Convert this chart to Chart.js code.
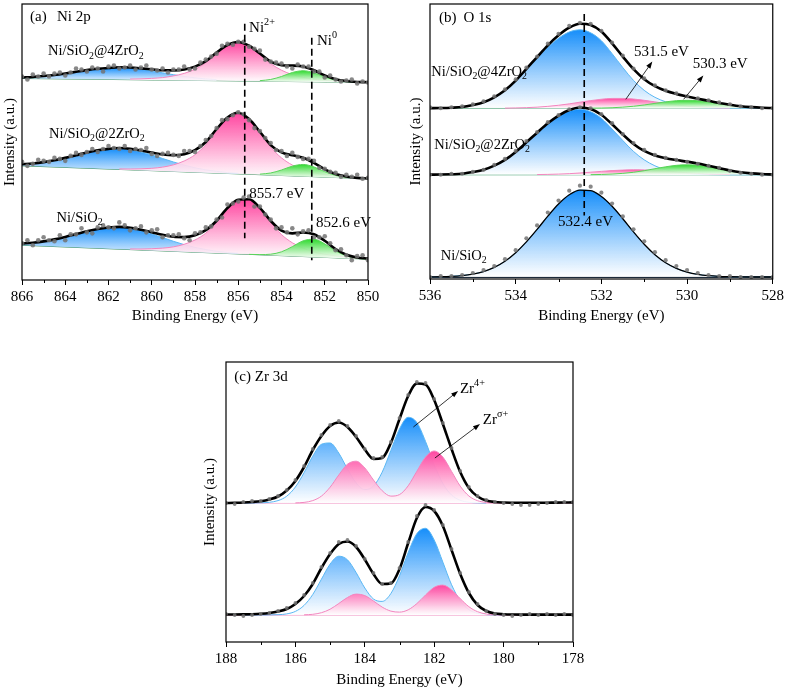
<!DOCTYPE html>
<html lang="en">
<head>
<meta charset="UTF-8">
<title>XPS spectra</title>
<style>
  html, body { margin: 0; padding: 0; background: #fff; overflow: hidden; }
  canvas { position: absolute; }
  #chartA { left: 0; top: 0; }
  #chartB { left: 390px; top: 0; }
  #chartC { left: 200px; top: 340px; }
</style>
</head>
<body>
<canvas id="chartA" width="390" height="330"></canvas>
<canvas id="chartB" width="397" height="330"></canvas>
<canvas id="chartC" width="400" height="349"></canvas>

<script src="https://cdn.jsdelivr.net/npm/chart.js"></script>
<script>
// ---------- (a) Ni 2p ----------
const niE = [866, 865.5, 865, 864.5, 864, 863.5, 863, 862.5, 862, 861.5, 861, 860.5, 860, 859.5, 859, 858.5, 858, 857.5, 857, 856.5, 856, 855.5, 855, 854.5, 854, 853.5, 853, 852.5, 852, 851.5, 851, 850.5, 850];
const niEData = [866, 865.75, 865.5, 865.25, 865, 864.75, 864.5, 864.25, 864, 863.75, 863.5, 863.25, 863, 862.75, 862.5, 862.25, 862, 861.75, 861.5, 861.25, 861, 860.75, 860.5, 860.25, 860, 859.75, 859.5, 859.25, 859, 858.75, 858.5, 858.25, 858, 857.75, 857.5, 857.25, 857, 856.75, 856.5, 856.25, 856, 855.75, 855.5, 855.25, 855, 854.75, 854.5, 854.25, 854, 853.75, 853.5, 853.25, 853, 852.75, 852.5, 852.25, 852, 851.75, 851.5, 851.25, 851, 850.75, 850.5, 850.25, 850];
const niBaseE = [866, 850];

// Ni/SiO2@4ZrO2
const niBase4 = [203, 199];
const niBlue4 = [204.0, 204.5, 205.4, 206.5, 208.0, 209.7, 211.4, 212.7, 213.6, 213.9, 213.4, 212.2, 210.6, 208.7, 206.8, 205.0, 203.6, 202.5, 201.8];
const niPink4 = [202.4, 202.6, 203.1, 203.9, 205.6, 208.1, 212.3, 218.8, 228.1, 236.1, 239.5, 235.9, 227.6, 218.0, 211.3, 206.9, 204.1, 202.1, 201.1, 200.4, 199.9];
const niGreen4 = [200.8, 202.0, 205.0, 209.0, 210.8, 208.7, 204.5, 201.3, 199.8];
const niFit4 = [204.0, 204.5, 205.4, 206.5, 208.0, 209.7, 211.4, 212.7, 213.6, 214.3, 214.0, 213.2, 212.2, 211.2, 211.1, 212.0, 214.9, 220.4, 229.1, 236.7, 239.8, 236.0, 228.1, 219.9, 216.3, 216.0, 215.1, 211.2, 206.1, 202.3, 200.4, 199.5, 199.2];
const niData4 = [205, 202, 207, 205, 208, 205, 208, 209, 206, 209, 213, 212, 210, 214, 213, 210, 215, 216, 213, 214, 216, 212, 214, 216, 212, 211, 213, 209, 212, 212, 215, 212, 213, 219, 222, 225, 228, 236, 238, 237, 240, 240, 235, 233, 231, 222, 220, 219, 218, 215, 213, 217, 215, 215, 210, 210, 204, 206, 202, 200, 201, 202, 198, 200, 199];

// Ni/SiO2@2ZrO2
const niBase2 = [115, 102];
const niBlue2 = [116.7, 117.4, 118.7, 120.6, 123.0, 125.7, 128.5, 130.7, 132.1, 132.4, 131.2, 129.0, 126.0, 122.4, 118.9, 115.7, 113.0, 110.9, 109.4, 108.2, 107.4];
const niPink2 = [111.9, 111.8, 112.0, 112.5, 113.7, 116.0, 119.9, 126.2, 136.2, 150.4, 162.8, 167.9, 162.0, 148.8, 133.8, 123.0, 115.8, 111.1, 108.0, 106.0, 104.7, 103.7, 102.9, 102.3];
const niGreen2 = [106.6, 107.8, 110.8, 114.7, 116.4, 113.9, 109.1, 105.3, 103.3];
const niFit2 = [116.7, 117.4, 118.7, 120.6, 123.0, 125.7, 128.5, 130.7, 132.1, 132.9, 132.1, 130.5, 128.4, 126.4, 125.6, 126.7, 130.7, 139.0, 152.1, 163.7, 168.4, 162.1, 149.3, 135.9, 128.5, 125.7, 123.1, 117.9, 111.5, 106.8, 104.2, 102.9, 102.3];
const niData2 = [119, 115, 117, 121, 120, 119, 123, 122, 120, 125, 128, 126, 129, 132, 129, 132, 135, 133, 132, 135, 130, 132, 131, 133, 127, 125, 127, 128, 126, 125, 130, 130, 129, 135, 141, 145, 153, 161, 162, 166, 169, 167, 161, 153, 150, 143, 138, 131, 130, 125, 128, 124, 122, 122, 120, 113, 112, 109, 108, 104, 106, 104, 106, 102, 103];

// Ni/SiO2
const niBase0 = [35, 21];
const niBlue0 = [36.8, 37.6, 38.9, 40.9, 43.4, 46.2, 49.0, 51.3, 52.8, 53.1, 51.9, 49.6, 46.4, 42.7, 39.0, 35.6, 32.8, 30.6, 28.9, 27.7, 26.8];
const niPink0 = [31.3, 31.2, 31.5, 32.1, 33.4, 36.0, 40.3, 47.2, 57.9, 71.5, 80.3, 81.0, 72.4, 58.5, 45.8, 37.5, 32.0, 28.2, 25.9, 24.2, 23.0, 22.1, 21.4];
const niGreen0 = [25.8, 25.6, 26.0, 28.4, 33.6, 39.5, 41.1, 36.4, 29.3, 24.3, 22.0, 21.1];
const niFit0 = [36.8, 37.6, 38.9, 40.9, 43.4, 46.2, 49.0, 51.3, 52.8, 53.5, 52.6, 50.6, 48.1, 45.5, 43.5, 43.2, 45.1, 50.2, 59.7, 72.5, 80.8, 81.3, 72.6, 59.6, 49.7, 47.0, 47.9, 46.1, 39.5, 31.2, 25.4, 22.7, 21.5];
const niData0 = [37, 40, 35, 40, 43, 40, 39, 45, 40, 46, 46, 52, 48, 47, 53, 55, 53, 52, 58, 55, 50, 52, 54, 48, 50, 51, 43, 45, 45, 46, 42, 40, 47, 48, 53, 54, 61, 63, 76, 77, 79, 83, 84, 74, 74, 66, 61, 52, 53, 48, 52, 46, 49, 50, 43, 43, 44, 37, 30, 31, 25, 20, 24, 25, 20];

// ---------- (b) O 1s ----------
const oE = [536, 535.75, 535.5, 535.25, 535, 534.75, 534.5, 534.25, 534, 533.75, 533.5, 533.25, 533, 532.75, 532.5, 532.25, 532, 531.75, 531.5, 531.25, 531, 530.75, 530.5, 530.25, 530, 529.75, 529.5, 529.25, 529, 528.75, 528.5, 528.25, 528];
const oBaseE = [536, 528];

const oBase4 = [172, 172];
const oBlue4 = [172.1, 172.2, 172.5, 173.2, 175.2, 178.0, 183.0, 190.0, 199.5, 211.0, 222.5, 233.5, 242.5, 248.8, 251.0, 248.0, 240.0, 227.0, 213.0, 200.0, 190.0, 183.0, 178.5, 175.5, 173.8, 172.8, 172.4, 172.1, 172.0, 172.0, 172.0, 172.0, 172.0];
const oPink4 = [172.1, 172.3, 172.6, 173.1, 173.9, 175.0, 176.4, 178.1, 179.7, 181.1, 181.9, 181.9, 181.3, 180.0, 178.4, 176.7, 175.3, 174.1, 173.2, 172.7, 172.3, 172.2];
const oGreen4 = [172.1, 172.2, 172.5, 173.1, 174.0, 175.3, 176.9, 178.4, 179.6, 180.0, 179.6, 178.4, 176.9, 175.3, 174.0, 173.1, 172.5, 172.2];
const oFit4 = [172.1, 172.2, 172.5, 173.2, 175.2, 178.0, 183.0, 190.1, 199.8, 211.6, 223.6, 235.4, 245.5, 253.2, 257.1, 255.8, 249.3, 237.4, 224.0, 211.3, 201.3, 194.3, 189.6, 186.4, 183.9, 181.6, 179.5, 177.3, 175.5, 174.0, 173.1, 172.5, 172.2];
const oData4 = [173, 172, 173, 174, 176, 179, 184, 191, 201, 213, 224, 237, 247, 255, 258, 257, 250, 238, 225, 212, 202, 195, 190, 187, 184, 182, 180, 178, 176, 174, 173, 172, 172];

const oBase2 = [105, 105];
const oBlue2 = [105.1, 105.2, 105.5, 106.0, 107.7, 110.0, 114.2, 120.0, 128.0, 137.6, 147.2, 156.4, 163.9, 169.1, 171.0, 168.5, 161.8, 151.0, 139.5, 128.5, 120.0, 114.0, 110.0, 107.5, 106.2, 105.5, 105.2, 105.1, 105.0, 105.0, 105.0, 105.0, 105.0];
const oPink2 = [105.2, 105.4, 105.7, 106.1, 106.8, 107.6, 108.4, 109.2, 109.7, 110.0, 109.9, 109.4, 108.7, 107.8, 107.0, 106.3, 105.8, 105.5, 105.2];
const oGreen2 = [105.1, 105.3, 105.7, 106.4, 107.5, 109.1, 111.1, 113.0, 114.5, 115.0, 114.5, 113.0, 111.1, 109.1, 107.5, 106.4, 105.7, 105.3];
const oFit2 = [105.1, 105.2, 105.5, 106.0, 107.7, 110.0, 114.2, 120.0, 128.0, 137.6, 147.4, 156.8, 164.6, 170.2, 172.8, 171.2, 165.5, 155.9, 145.6, 136.0, 129.0, 124.5, 121.7, 119.8, 118.2, 116.3, 114.0, 111.7, 109.3, 107.5, 106.4, 105.7, 105.3];
const oData2 = [105, 105, 106, 106, 108, 110, 115, 121, 129, 139, 148, 158, 165, 171, 173, 172, 166, 157, 146, 137, 130, 125, 122, 120, 118, 116, 114, 112, 109, 107, 106, 105, 105];

const oBase0 = [2, 2];
const oBlue0 = [2.1, 2.3, 2.7, 3.5, 5.0, 7.5, 11.7, 17.9, 26.5, 37.4, 50.0, 63.3, 75.5, 84.8, 89.6, 89.0, 83.2, 73.3, 60.7, 47.4, 35.0, 24.5, 16.4, 10.7, 6.9, 4.6, 3.3, 2.6, 2.3, 2.1, 2.0, 2.0, 2.0];
const oFit0 = [2.1, 2.3, 2.7, 3.5, 5.0, 7.5, 11.7, 17.9, 26.5, 37.4, 50.0, 63.3, 75.5, 84.8, 89.6, 89.0, 83.2, 73.3, 60.7, 47.4, 35.0, 24.5, 16.4, 10.7, 6.9, 4.6, 3.3, 2.6, 2.3, 2.1, 2.0, 2.0, 2.0];
const oData0 = [2, 3, 3, 4, 6, 9, 13, 20, 29, 41, 54, 67, 79, 89, 94, 93, 87, 76, 63, 50, 38, 27, 19, 13, 9, 6, 4, 3, 3, 2, 2, 2, 2];

// ---------- (c) Zr 3d ----------
const zrE = [188, 187.75, 187.5, 187.25, 187, 186.75, 186.5, 186.25, 186, 185.75, 185.5, 185.25, 185, 184.75, 184.5, 184.25, 184, 183.75, 183.5, 183.25, 183, 182.75, 182.5, 182.25, 182, 181.75, 181.5, 181.25, 181, 180.75, 180.5, 180.25, 180, 179.75, 179.5, 179.25, 179, 178.75, 178.5, 178.25, 178];
const zrBaseE = [188, 178];

const zrBaseTop = [139, 139];
const zrBlueTop = [139, 139, 139.2, 139.7, 141.4, 145.8, 155.0, 169.3, 185.8, 197.7, 199.0, 188.9, 173.0, 159.1, 152.4, 155.9, 169.8, 191.4, 213.1, 224.7, 219.5, 200.6, 177.3, 158.4, 147.0, 141.7, 139.7, 139.2, 139.0];
const zrPinkTop = [139.1, 139.6, 141.4, 145.9, 154.8, 167.0, 177.8, 180.8, 174.1, 162.0, 151.3, 145.9, 147.4, 156.2, 170.7, 184.9, 191.0, 184.9, 170.6, 155.9, 146.0, 141.3, 139.6, 139.1, 139.0];
const zrFitTop = [139, 139.2, 139.5, 140, 140.8, 142.5, 145.5, 151.5, 161, 175, 192, 206, 216, 219.5, 215, 205, 192.5, 183, 184, 199, 223, 246, 258.5, 257.5, 242, 218, 193, 170, 154, 145.5, 141.5, 140, 139.5, 139.3, 139.2, 139.2, 139.2, 139.3, 139.4, 139.5, 139.6];
const zrDataTop = [139, 138, 140, 141, 141, 143, 146, 152, 162, 176, 193, 207, 217, 221, 216, 206, 193, 184, 185, 200, 224, 247, 260, 259, 243, 219, 194, 171, 155, 146, 142, 140, 139, 138, 137, 137, 138, 139, 140, 140, 140];

const zrBaseBot = [27, 27];
const zrBlueBot = [27, 27, 27, 27.1, 27.3, 28.1, 30.6, 36.6, 47.5, 62.8, 77.9, 85.8, 82.2, 69.4, 54.0, 43.0, 40.6, 48.4, 66.2, 89.4, 108.4, 113.7, 102.0, 79.8, 57.3, 41.1, 32.3, 28.7, 27.4, 27.1, 27];
const zrPinkBot = [27.2, 27.7, 29.3, 32.8, 38.5, 44.5, 47.9, 46.4, 41.0, 34.9, 30.9, 29.9, 32.2, 38.4, 47.0, 54.7, 56.9, 52.1, 43.4, 35.3, 30.3, 28.0, 27.2, 27];
const zrFitBot = [27.5, 27.5, 27.6, 27.8, 28.2, 29, 30.5, 33, 38, 46, 58, 74, 88, 98, 100.5, 95, 82.5, 68, 58, 58.5, 73, 99, 124, 135, 131, 116, 92, 68, 49, 37, 31, 28.5, 27.8, 27.5, 27.4, 27.4, 27.4, 27.4, 27.4, 27.4, 27.4];
const zrDataBot = [28, 27, 26, 27, 28, 29, 31, 34, 39, 47, 59, 75, 89, 100, 102, 96, 83, 69, 58, 59, 74, 100, 126, 137, 132, 117, 93, 69, 50, 38, 31, 28, 27, 26, 27, 28, 27, 28, 27, 28, 27];

// ---------- drawing helpers ----------
Chart.defaults.font.family = '"Liberation Serif", "Times New Roman", serif';
Chart.defaults.color = '#000';

const BLUE = ['rgb(22,142,250)', '#5ab7f3'];
const PINK = ['rgb(255,70,160)', '#f286bf'];
const GREEN = ['rgb(45,218,45)', '#5ad35a'];
const SERIF = '"Liberation Serif", "Times New Roman", serif';

const pts = (grid, start, vals) => vals.map((v, i) => ({ x: grid[start + i], y: v }));

function gradientFill(color, topVal, baseVal) {
  return ctx => {
    const chart = ctx.chart;
    if (!chart.chartArea) return color;
    const y = chart.scales.y;
    const g = chart.ctx.createLinearGradient(0, y.getPixelForValue(topVal), 0, y.getPixelForValue(baseVal));
    g.addColorStop(0, color);
    g.addColorStop(1, 'rgba(255,255,255,0.9)');
    return g;
  };
}

function addSpectrum(sets, s) {
  const baseIdx = sets.length;
  const baseLow = Math.min(...s.baseY);
  sets.push({ data: pts(s.baseX, 0, s.baseY), borderColor: s.baseColor, borderWidth: s.baseWidth || 1,
              pointRadius: 0, fill: false, order: 5 });
  s.peaks.forEach((p, k) => {
    sets.push({
      data: pts(s.grid, p.start, p.vals), borderColor: p.color[1], borderWidth: 1,
      backgroundColor: gradientFill(p.color[0], Math.max(...p.vals), baseLow),
      fill: baseIdx, pointRadius: 0, cubicInterpolationMode: 'monotone', order: 4 - k
    });
  });
  sets.push({ data: pts(s.grid, 0, s.fit), borderColor: '#000', borderWidth: s.fitWidth || 2.6,
              pointRadius: 0, fill: false, cubicInterpolationMode: 'monotone', order: 1 });
  sets.push({ data: pts(s.dataGrid || s.grid, 0, s.data), showLine: false, pointRadius: s.dotR,
              pointBackgroundColor: 'rgba(115,115,115,0.85)', pointBorderWidth: 0, order: 0 });
}

function drawRich(ctx, str, x, y, size, align) {
  const parts = [];
  const re = /([_^])\{([^}]*)\}|([^_^]+)/g;
  let m;
  while ((m = re.exec(str))) {
    if (m[3]) parts.push({ t: m[3], k: 0 });
    else parts.push({ t: m[2], k: m[1] === '_' ? 1 : 2 });
  }
  let w = 0;
  parts.forEach(p => {
    ctx.font = (p.k ? size * 0.68 : size) + 'px ' + SERIF;
    p.w = ctx.measureText(p.t).width;
    w += p.w;
  });
  let cx = align === 'center' ? x - w / 2 : x;
  ctx.textAlign = 'left';
  ctx.textBaseline = 'middle';
  ctx.fillStyle = '#000';
  parts.forEach(p => {
    ctx.font = (p.k ? size * 0.68 : size) + 'px ' + SERIF;
    const dy = p.k === 1 ? size * 0.3 : p.k === 2 ? -size * 0.38 : 0;
    ctx.fillText(p.t, cx, y + dy);
    cx += p.w;
  });
}

function annotations(items) {
  return {
    id: 'annot',
    afterDraw(chart) {
      const { ctx, scales: { x, y } } = chart;
      ctx.save();
      items.forEach(it => {
        if (it.type === 'dash') {
          const px = x.getPixelForValue(it.x);
          ctx.beginPath();
          ctx.setLineDash([7, 4]);
          ctx.lineWidth = 1.6;
          ctx.strokeStyle = '#000';
          ctx.moveTo(px, y.getPixelForValue(it.y0));
          ctx.lineTo(px, y.getPixelForValue(it.y1));
          ctx.stroke();
          ctx.setLineDash([]);
        } else if (it.type === 'arrow') {
          const x0 = x.getPixelForValue(it.x0), y0 = y.getPixelForValue(it.y0);
          const x1 = x.getPixelForValue(it.x1), y1 = y.getPixelForValue(it.y1);
          const a = Math.atan2(y1 - y0, x1 - x0);
          ctx.beginPath();
          ctx.lineWidth = 0.8;
          ctx.strokeStyle = '#000';
          ctx.moveTo(x0, y0);
          ctx.lineTo(x1 - 5 * Math.cos(a), y1 - 5 * Math.sin(a));
          ctx.stroke();
          ctx.beginPath();
          ctx.fillStyle = '#000';
          ctx.moveTo(x1, y1);
          ctx.lineTo(x1 - 7 * Math.cos(a) + 2.5 * Math.sin(a), y1 - 7 * Math.sin(a) - 2.5 * Math.cos(a));
          ctx.lineTo(x1 - 7 * Math.cos(a) - 2.5 * Math.sin(a), y1 - 7 * Math.sin(a) + 2.5 * Math.cos(a));
          ctx.closePath();
          ctx.fill();
        } else {
          drawRich(ctx, it.text, x.getPixelForValue(it.x), y.getPixelForValue(it.y), it.size || 15, it.align);
        }
      });
      ctx.restore();
    }
  };
}

const framePlugin = {
  id: 'frame',
  afterDraw(chart) {
    const { ctx, chartArea: a, scales: { x } } = chart;
    ctx.save();
    ctx.strokeStyle = '#000';
    ctx.lineWidth = 1.2;
    ctx.strokeRect(a.left, a.top, a.right - a.left, a.bottom - a.top);
    ctx.lineWidth = 1;
    for (let v = Math.ceil(x.min); v <= x.max; v++) {
      if (v % 2 === 0) continue;
      const px = Math.round(x.getPixelForValue(v)) + 0.5;
      ctx.beginPath();
      ctx.moveTo(px, a.bottom);
      ctx.lineTo(px, a.bottom + 3);
      ctx.stroke();
    }
    ctx.restore();
  }
};

function makeChart(id, sets, o) {
  return new Chart(document.getElementById(id), {
    type: 'line',
    data: { datasets: sets },
    options: {
      responsive: false,
      animation: false,
      devicePixelRatio: 1,
      layout: { padding: o.padding },
      plugins: { legend: { display: false }, tooltip: { enabled: false } },
      scales: {
        x: {
          type: 'linear', reverse: true, min: o.xMin, max: o.xMax,
          afterFit: s => { s.height = o.xHeight; },
          ticks: { stepSize: 2, font: { size: 15 }, color: '#000', padding: 3, maxRotation: 0 },
          grid: { drawOnChartArea: false, tickLength: 5, color: '#000', lineWidth: 1 },
          border: { display: false },
          title: { display: true, text: 'Binding Energy (eV)', font: { size: 15 }, padding: { top: 0, bottom: o.xTitlePad } }
        },
        y: {
          min: 0, max: o.yMax,
          afterFit: s => { s.width = o.yWidth; },
          ticks: { display: false },
          grid: { display: false },
          border: { display: false },
          title: { display: true, text: 'Intensity (a.u.)', font: { size: 15 }, padding: { top: o.yTitlePad, bottom: 0 } }
        }
      }
    },
    plugins: [framePlugin, annotations(o.notes)]
  });
}

// ---------- (a) ----------
const setsA = [];
[[niBase4, niBlue4, niPink4, 10, niGreen4, 22, niFit4, niData4],
 [niBase2, niBlue2, niPink2, 9, niGreen2, 22, niFit2, niData2],
 [niBase0, niBlue0, niPink0, 10, niGreen0, 21, niFit0, niData0]].forEach(r => {
  addSpectrum(setsA, {
    baseX: niBaseE, baseY: r[0], baseColor: '#3b8f5c', grid: niE, dataGrid: niEData,
    peaks: [{ start: 0, vals: r[1], color: BLUE }, { start: r[3], vals: r[2], color: PINK }, { start: r[5], vals: r[4], color: GREEN }],
    fit: r[6], data: r[7], dotR: 2.3
  });
});
makeChart('chartA', setsA, {
  padding: { left: 0, right: 22, top: 2, bottom: 0 }, xMin: 850, xMax: 866, yMax: 278,
  xHeight: 50, yWidth: 22, xTitlePad: 5, yTitlePad: 1,
  notes: [
    { type: 'text', x: 865.63, y: 265, text: '(a)' },
    { type: 'text', x: 864.38, y: 265, text: 'Ni 2p' },
    { type: 'dash', x: 855.7, y0: 258, y1: 42 },
    { type: 'dash', x: 852.6, y0: 244, y1: 20 },
    { type: 'text', x: 855.5, y: 254, text: 'Ni^{2+}' },
    { type: 'text', x: 852.36, y: 241, text: 'Ni^{0}' },
    { type: 'text', x: 855.49, y: 87, text: '855.7 eV' },
    { type: 'text', x: 852.4, y: 57, text: '852.6 eV' },
    { type: 'text', x: 864.8, y: 230, text: 'Ni/SiO_{2}@4ZrO_{2}', size: 14.5 },
    { type: 'text', x: 864.75, y: 147, text: 'Ni/SiO_{2}@2ZrO_{2}', size: 14.5 },
    { type: 'text', x: 864.4, y: 62, text: 'Ni/SiO_{2}', size: 14.5 }
  ]
});

// ---------- (b) ----------
const setsB = [];
addSpectrum(setsB, {
  baseX: oBaseE, baseY: oBase4, baseColor: '#3b9a6a', grid: oE,
  peaks: [{ start: 0, vals: oBlue4, color: BLUE }, { start: 7, vals: oPink4, color: PINK }, { start: 15, vals: oGreen4, color: GREEN }],
  fit: oFit4, data: oData4, dotR: 2.1
});
addSpectrum(setsB, {
  baseX: oBaseE, baseY: oBase2, baseColor: '#3b9a6a', grid: oE,
  peaks: [{ start: 0, vals: oBlue2, color: BLUE }, { start: 10, vals: oPink2, color: PINK }, { start: 15, vals: oGreen2, color: GREEN }],
  fit: oFit2, data: oData2, dotR: 2.1
});
addSpectrum(setsB, {
  baseX: oBaseE, baseY: oBase0, baseColor: '#1d2b3a', baseWidth: 2, grid: oE,
  peaks: [{ start: 0, vals: oBlue0, color: BLUE }],
  fit: oFit0, fitWidth: 1.3, data: oData0, dotR: 2.1
});
makeChart('chartB', setsB, {
  padding: { left: 0, right: 10, top: 2, bottom: 0 }, xMin: 528, xMax: 536, yMax: 277,
  xHeight: 51, yWidth: 40, xTitlePad: 5, yTitlePad: 17,
  notes: [
    { type: 'text', x: 535.79, y: 263, text: '(b)' },
    { type: 'text', x: 535.22, y: 263, text: 'O 1s' },
    { type: 'dash', x: 532.4, y0: 267, y1: 64 },
    { type: 'text', x: 532.37, y: 57, text: '532.4 eV', align: 'center' },
    { type: 'text', x: 531.24, y: 229, text: '531.5 eV' },
    { type: 'arrow', x0: 531.43, y0: 181, x1: 530.81, y1: 219 },
    { type: 'text', x: 529.87, y: 217, text: '530.3 eV' },
    { type: 'arrow', x0: 530.08, y0: 181, x1: 529.62, y1: 205 },
    { type: 'text', x: 535.97, y: 208, text: 'Ni/SiO_{2}@4ZrO_{2}', size: 14.5 },
    { type: 'text', x: 535.9, y: 135, text: 'Ni/SiO_{2}@2ZrO_{2}', size: 14.5 },
    { type: 'text', x: 535.75, y: 23, text: 'Ni/SiO_{2}', size: 14.5 }
  ]
});

// ---------- (c) ----------
const setsC = [];
addSpectrum(setsC, {
  baseX: zrBaseE, baseY: zrBaseTop, baseColor: '#f08cc0', baseWidth: 1.2, grid: zrE,
  peaks: [{ start: 2, vals: zrBlueTop, color: BLUE }, { start: 8, vals: zrPinkTop, color: PINK }],
  fit: zrFitTop, data: zrDataTop, dotR: 1.9
});
addSpectrum(setsC, {
  baseX: zrBaseE, baseY: zrBaseBot, baseColor: '#f08cc0', baseWidth: 1.2, grid: zrE,
  peaks: [{ start: 2, vals: zrBlueBot, color: BLUE }, { start: 9, vals: zrPinkBot, color: PINK }],
  fit: zrFitBot, data: zrDataBot, dotR: 1.9
});
makeChart('chartC', setsC, {
  padding: { left: 0, right: 27, top: 22, bottom: 0 }, xMin: 178, xMax: 188, yMax: 280,
  xHeight: 47, yWidth: 26, xTitlePad: 0, yTitlePad: 1,
  notes: [
    { type: 'text', x: 187.76, y: 265, text: '(c) Zr 3d' },
    { type: 'text', x: 181.26, y: 253, text: 'Zr^{4+}' },
    { type: 'arrow', x0: 182.6, y0: 215, x1: 181.31, y1: 251 },
    { type: 'text', x: 180.6, y: 222, text: 'Zr^{σ+}' },
    { type: 'arrow', x0: 181.98, y0: 184, x1: 180.68, y1: 218 }
  ]
});
</script>
</body>
</html>
